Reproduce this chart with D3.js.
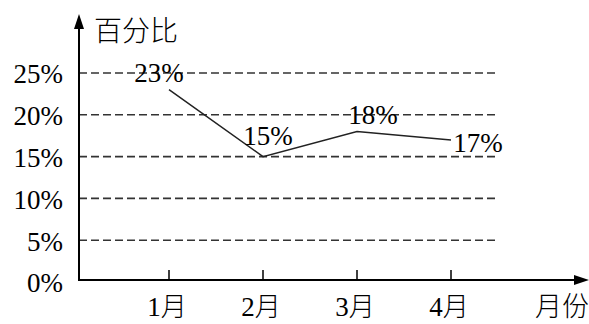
<!DOCTYPE html>
<html>
<head>
<meta charset="utf-8">
<script src="https://cdn.jsdelivr.net/npm/d3@7"></script>
<style>
  html, body { margin: 0; padding: 0; background: #fff; }
  svg { display: block; }
  .num { font-family: "Liberation Serif", "Times New Roman", serif; }
  .cjk { font-family: "Noto Sans CJK SC", sans-serif; font-weight: 300; }
</style>
</head>
<body>
<svg id="chart" width="589" height="324"></svg>
<script>
// Monthly percentages
const months = ["1月", "2月", "3月", "4月"];
const values = [23, 15, 18, 17];
const yTicks = [0, 5, 10, 15, 20, 25];
const yTickLabels = ["0%", "5%", "10%", "15%", "20%", "25%"];
const yTitle = "百分比";
const xTitle = "月份";

// Label offsets from each point (layout only)
const labelOffsets = [[-10, -17], [5, -21], [16, -17], [27, 3]];

const svg = d3.select("#chart");
const originX = 79;
const numSize = 27;

const y = d3.scaleLinear().domain([0, 25]).range([282, 73]);
const x = d3.scalePoint().domain(["", ...months]).range([75, 451]);

// Dashed horizontal reference lines
svg.append("g").selectAll("line")
  .data(yTicks.filter(d => d > 0))
  .join("line")
  .attr("x1", originX).attr("x2", 496)
  .attr("y1", d => y(d)).attr("y2", d => y(d))
  .attr("stroke", "#333").attr("stroke-width", 1.6)
  .attr("stroke-dasharray", "8,4");

// Y tick labels
svg.append("g").selectAll("text")
  .data(yTicks)
  .join("text")
  .attr("class", "num")
  .attr("x", 63)
  .attr("y", d => y(d) + 1)
  .attr("dy", "0.35em")
  .attr("text-anchor", "end")
  .attr("font-size", numSize)
  .text((d, i) => yTickLabels[i]);

// Axes with arrow heads
const axisY = y(0) - 2;
svg.append("line")
  .attr("x1", originX).attr("x2", originX)
  .attr("y1", axisY).attr("y2", 26)
  .attr("stroke", "#000").attr("stroke-width", 2);
svg.append("path")
  .attr("d", `M${originX},14 L${originX - 5},29 L${originX + 5},29 Z`)
  .attr("fill", "#000");
svg.append("line")
  .attr("x1", originX - 1).attr("x2", 578)
  .attr("y1", axisY).attr("y2", axisY)
  .attr("stroke", "#000").attr("stroke-width", 2);
svg.append("path")
  .attr("d", `M589,${axisY} L574,${axisY - 5} L574,${axisY + 5} Z`)
  .attr("fill", "#000");

// X ticks and labels
svg.append("g").selectAll("line")
  .data(months)
  .join("line")
  .attr("x1", d => x(d)).attr("x2", d => x(d))
  .attr("y1", axisY).attr("y2", axisY - 10)
  .attr("stroke", "#000").attr("stroke-width", 1.5);

const tickLabels = svg.append("g").selectAll("text")
  .data(months)
  .join("text")
  .attr("x", d => x(d) - 2)
  .attr("y", 307)
  .attr("dy", "0.35em")
  .attr("text-anchor", "middle")
  .attr("font-size", numSize);
tickLabels.append("tspan").attr("class", "num").text(d => d.slice(0, -1));
tickLabels.append("tspan").attr("class", "cjk").attr("font-size", 26).text(d => d.slice(-1));

// Axis titles
svg.append("text").attr("class", "cjk")
  .attr("x", 94).attr("y", 31).attr("dy", "0.35em")
  .attr("font-size", 28).text(yTitle);
svg.append("text").attr("class", "cjk")
  .attr("x", 589).attr("y", 307).attr("dy", "0.35em")
  .attr("text-anchor", "end")
  .attr("font-size", 27).text(xTitle);

// Data line
const line = d3.line()
  .x((d, i) => x(months[i]))
  .y(d => y(d));
svg.append("path")
  .datum(values)
  .attr("d", line)
  .attr("fill", "none")
  .attr("stroke", "#222").attr("stroke-width", 1.5);

// Value labels
svg.append("g").selectAll("text")
  .data(values)
  .join("text")
  .attr("class", "num")
  .attr("x", (d, i) => x(months[i]) + labelOffsets[i][0])
  .attr("y", (d, i) => y(d) + labelOffsets[i][1])
  .attr("dy", "0.35em")
  .attr("text-anchor", "middle")
  .attr("font-size", numSize)
  .text(d => d + "%");
</script>
</body>
</html>
